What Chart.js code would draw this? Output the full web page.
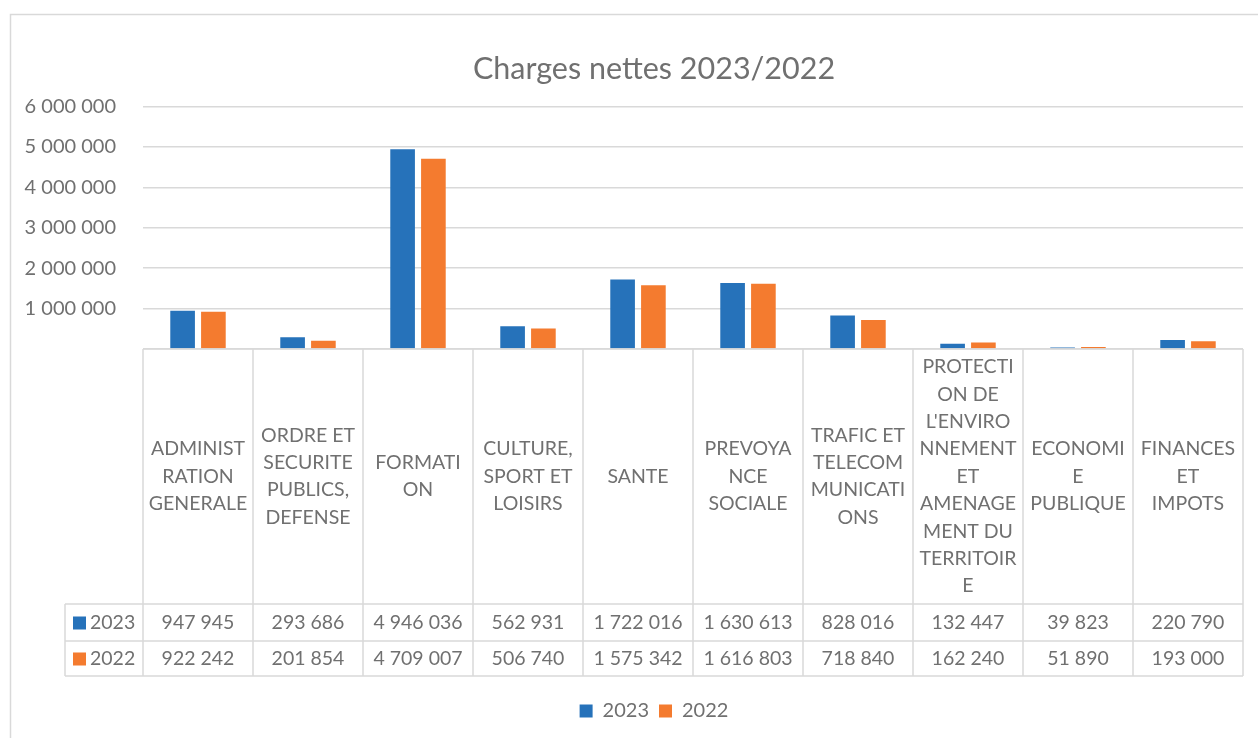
<!DOCTYPE html>
<html>
<head>
<meta charset="utf-8">
<script src="https://cdn.jsdelivr.net/npm/chart.js@4/dist/chart.umd.min.js"></script>
<style>
  html, body { margin: 0; padding: 0; background: #fff; overflow: hidden; }
  /* the chart frame runs past the right edge of the window, as in the reference */
  #wrap { width: 1310px; height: 738px; position: relative; }
</style>
</head>
<body>
<div id="wrap"><canvas id="chart_chargesNettes"></canvas></div>
<script>
// categories (lines as wrapped in the data table)
var categories = [
    ['ADMINIST', 'RATION', 'GENERALE'],
    ['ORDRE ET', 'SECURITE', 'PUBLICS,', 'DEFENSE'],
    ['FORMATI', 'ON'],
    ['CULTURE,', 'SPORT ET', 'LOISIRS'],
    ['SANTE'],
    ['PREVOYA', 'NCE', 'SOCIALE'],
    ['TRAFIC ET', 'TELECOM', 'MUNICATI', 'ONS'],
    ['PROTECTI', 'ON DE', "L'ENVIRO", 'NNEMENT', 'ET', 'AMENAGE', 'MENT DU', 'TERRITOIR', 'E'],
    ['ECONOMI', 'E', 'PUBLIQUE'],
    ['FINANCES', 'ET', 'IMPOTS']
];
var values2023 = [947945, 293686, 4946036, 562931, 1722016, 1630613, 828016, 132447, 39823, 220790];
var values2022 = [922242, 201854, 4709007, 506740, 1575342, 1616803, 718840, 162240, 51890, 193000];
var seriesLabels = ['2023', '2022'];
var seriesColors = ['#2672BA', '#F47B2F'];

var FONT = 'Lato, "Open Sans", sans-serif';
var TEXT = '#707070';
var LINE = '#d9d9d9';

function fmt(v) {
    return String(v).replace(/\B(?=(\d{3})+(?!\d))/g, ' ');
}

var frameAndTable = {
    id: 'frameAndTable',
    beforeDraw: function (chart) {
        var ctx = chart.ctx;
        ctx.save();
        ctx.fillStyle = 'white';
        ctx.fillRect(0, 0, chart.width, chart.height);
        ctx.strokeStyle = LINE;
        ctx.lineWidth = 1.5;
        ctx.strokeRect(10.5, 14.5, chart.width + 20, chart.height + 20);
        ctx.restore();
    },
    afterDatasetsDraw: function (chart) {
        var ctx = chart.ctx;
        var x = chart.scales.x;
        var area = chart.chartArea;
        var n = categories.length;
        var half = (x.getPixelForValue(1) - x.getPixelForValue(0)) / 2;
        var top = area.bottom;
        var row1 = 604, row2 = 641, row3 = 676, keyLeft = 65;
        ctx.save();
        ctx.strokeStyle = LINE;
        ctx.lineWidth = 1.5;
        ctx.beginPath();
        ctx.moveTo(area.left, top); ctx.lineTo(area.right, top);
        [row1, row2, row3].forEach(function (y) {
            ctx.moveTo(keyLeft, y); ctx.lineTo(area.right, y);
        });
        for (var i = 0; i <= n; i++) {
            var bx = x.getPixelForValue(i) - half;
            if (i === n) bx = x.getPixelForValue(n - 1) + half;
            ctx.moveTo(bx, top); ctx.lineTo(bx, row3);
        }
        ctx.moveTo(keyLeft, row1); ctx.lineTo(keyLeft, row3);
        ctx.stroke();

        ctx.fillStyle = TEXT;
        ctx.textAlign = 'center';
        ctx.textBaseline = 'middle';
        ctx.font = '19.5px ' + FONT;
        var lh = 27.4;
        var midY = (top + row1) / 2;
        categories.forEach(function (lines, i) {
            var cx = x.getPixelForValue(i);
            var y0 = midY - (lines.length - 1) * lh / 2;
            lines.forEach(function (t, k) {
                ctx.fillText(t, cx, y0 + k * lh);
            });
            ctx.fillText(fmt(values2023[i]), cx, (row1 + row2) / 2);
            ctx.fillText(fmt(values2022[i]), cx, (row2 + row3) / 2);
        });

        // series keys in the left column
        [row1, row2].forEach(function (ry, s) {
            var cy = ry + (s === 0 ? (row2 - row1) : (row3 - row2)) / 2;
            ctx.fillStyle = seriesColors[s];
            ctx.fillRect(73, cy - 6, 13, 13);
            ctx.fillStyle = TEXT;
            ctx.textAlign = 'left';
            ctx.fillText(seriesLabels[s], 90, cy);
        });
        ctx.restore();
    }
};

var chart_chargesNettes = new Chart(document.getElementById('chart_chargesNettes'), {
    type: 'bar',
    data: {
        labels: categories.map(function (c) { return c.join(' '); }),
        datasets: [
            {
                label: seriesLabels[0],
                data: values2023,
                backgroundColor: seriesColors[0],
                categoryPercentage: 0.56,
                barPercentage: 0.8
            },
            {
                label: seriesLabels[1],
                data: values2022,
                backgroundColor: seriesColors[1],
                categoryPercentage: 0.56,
                barPercentage: 0.8
            }
        ]
    },
    options: {
        animation: false,
        responsive: true,
        maintainAspectRatio: false,
        layout: {
            padding: { top: 14, left: 10, right: 12, bottom: 7 }
        },
        plugins: {
            title: {
                display: true,
                text: 'Charges nettes 2023/2022',
                color: TEXT,
                font: { family: FONT, size: 30.5, weight: 'normal' },
                padding: { top: 37, bottom: 19 }
            },
            legend: {
                position: 'bottom',
                labels: {
                    color: TEXT,
                    font: { family: FONT, size: 20 },
                    boxWidth: 13,
                    boxHeight: 13,
                    padding: 10
                }
            },
            tooltip: { enabled: false }
        },
        scales: {
            x: {
                grid: { display: false },
                border: { display: false },
                ticks: { display: false },
                afterFit: function (scale) { scale.height = 342; }
            },
            y: {
                min: 0,
                max: 6000000,
                grid: { color: LINE, lineWidth: 1.5, drawTicks: false },
                border: { display: false },
                ticks: {
                    stepSize: 1000000,
                    color: TEXT,
                    font: { family: FONT, size: 20 },
                    padding: 27,
                    callback: function (v) { return v === 0 ? '' : fmt(v); }
                },
                afterFit: function (scale) { scale.width = 133; }
            },
            // empty right-hand space so the plot ends where the reference's does
            yRight: {
                type: 'linear',
                position: 'right',
                grid: { display: false },
                border: { display: false },
                ticks: { display: false },
                afterFit: function (scale) { scale.width = 55; }
            }
        }
    },
    plugins: [frameAndTable]
});
</script>
</body>
</html>
